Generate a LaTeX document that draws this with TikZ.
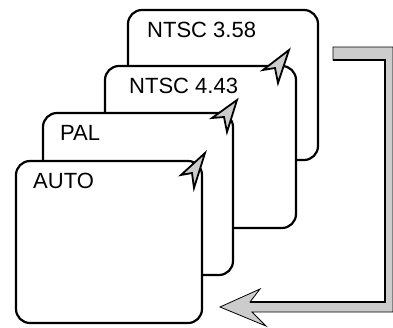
\documentclass[tikz,border=0pt]{standalone}
\usepackage{fontspec}
\setmainfont{Liberation Sans}
\begin{document}
\begin{tikzpicture}[x=1pt,y=-1pt,
  card/.style={draw=black, line width=2.2pt, fill=white, rounded corners=14pt,
    rectangle, anchor=north west, inner sep=0pt, outer sep=0pt},
  lbl/.style={anchor=base west, inner sep=0pt, font=\fontsize{22}{25}\selectfont},
  pointer/.style={draw=black, line width=1.8pt, fill=gray!40, line join=miter},
  band/.style={fill=gray!40, draw=black, line width=0.8pt}]
\useasboundingbox (0,0) rectangle (393,327);
% cards, back to front
\node[card, minimum width=190pt, minimum height=150pt] (cA) at (128,10) {};
\node[lbl] (tA) at (147,37) {NTSC 3.58};
\coordinate (pA) at (289,50);
\node[card, minimum width=191pt, minimum height=162pt] (cB) at (105,66) {};
\node[lbl] (tB) at (129,93) {NTSC 4.43};
\draw[pointer] (pA) -- ++(-26,20) -- ++(12,-2) -- ++(3,15) -- cycle;
\coordinate (pB) at (237,100);
\node[card, minimum width=190pt, minimum height=162pt] (cC) at (43,113) {};
\node[lbl] (tC) at (60,140) {PAL};
\draw[pointer] (pB) -- ++(-25,18) -- ++(12,-1) -- ++(3,15) -- cycle;
\coordinate (pC) at (205,153);
\node[card, minimum width=186pt, minimum height=162pt] (cD) at (16,161) {};
\node[lbl] (tD) at (33,188) {AUTO};
\draw[pointer] (pC) -- ++(-24,22) -- ++(11,-2) -- ++(2,15) -- cycle;
% big return arrow
\coordinate (aTip) at (220,307);
\draw[band] (333,47) -- (393,47) -- (393,312) -- (252,312) -- (266,326)
  -- (aTip) -- (260,289) -- (250,302) -- (385,302) -- (385,60) -- (333,60) -- cycle;
\draw[line width=2.4pt, line join=miter] (333,60) -- (385,60) -- (385,302) -- (250,302);
\end{tikzpicture}
\end{document}
